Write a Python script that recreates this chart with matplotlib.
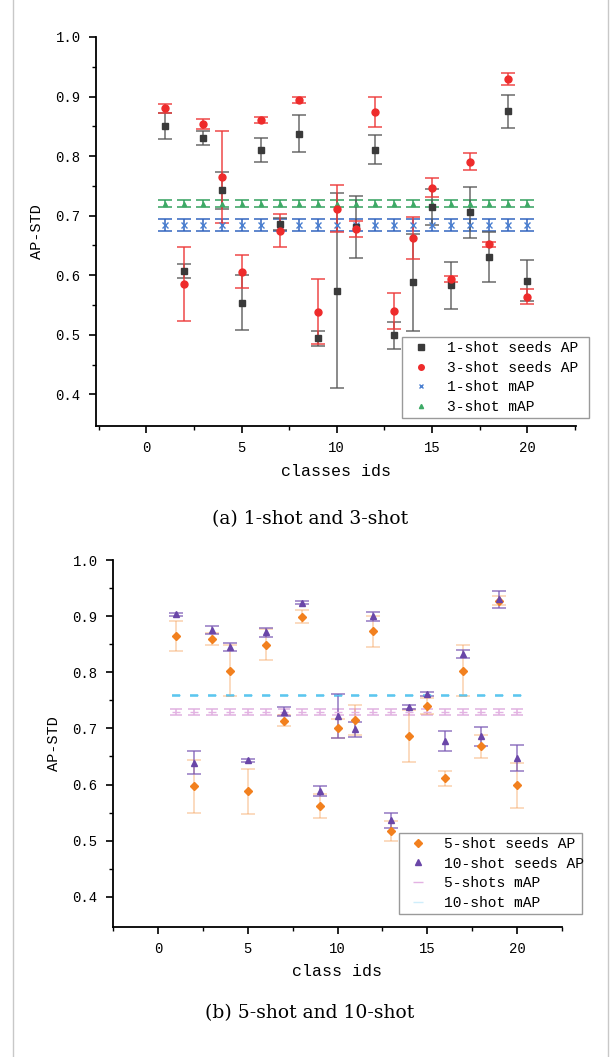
import numpy as np
import matplotlib
matplotlib.use("Agg")
import matplotlib.pyplot as plt
from matplotlib.lines import Line2D

# class ids
ids = list(range(1, 21))

# (a) 1-shot / 3-shot per-class AP and std
ap1 = [0.851, 0.607, 0.831, 0.743, 0.554, 0.810, 0.686, 0.838, 0.494, 0.574,
       0.681, 0.811, 0.499, 0.588, 0.715, 0.583, 0.706, 0.631, 0.875, 0.591]
ap1_std = [0.022, 0.012, 0.012, 0.031, 0.046, 0.020, 0.010, 0.031, 0.013, 0.164,
           0.052, 0.024, 0.022, 0.082, 0.030, 0.039, 0.043, 0.042, 0.028, 0.034]
ap3 = [0.880, 0.586, 0.854, 0.765, 0.606, 0.861, 0.675, 0.895, 0.539, 0.712,
       0.678, 0.874, 0.540, 0.663, 0.747, 0.594, 0.791, 0.652, 0.929, 0.564]
ap3_std = [0.008, 0.062, 0.008, 0.077, 0.028, 0.005, 0.028, 0.005, 0.054, 0.039,
           0.013, 0.025, 0.031, 0.035, 0.016, 0.005, 0.014, 0.004, 0.010, 0.013]
map1, map1_std = 0.684, 0.010
map3, map3_std = 0.720, 0.006

# (b) 5-shot / 10-shot
ap5 = [0.864, 0.597, 0.859, 0.803, 0.588, 0.849, 0.714, 0.899, 0.562, 0.700,
       0.715, 0.873, 0.517, 0.686, 0.740, 0.611, 0.803, 0.668, 0.927, 0.599]
ap5_std = [0.027, 0.047, 0.011, 0.046, 0.040, 0.028, 0.010, 0.012, 0.021, 0.017,
           0.026, 0.028, 0.018, 0.046, 0.015, 0.013, 0.045, 0.020, 0.008, 0.040]
ap10 = [0.903, 0.639, 0.876, 0.845, 0.643, 0.871, 0.730, 0.924, 0.588, 0.722,
        0.698, 0.900, 0.536, 0.738, 0.761, 0.678, 0.833, 0.686, 0.930, 0.647]
ap10_std = [0.003, 0.021, 0.007, 0.008, 0.003, 0.008, 0.008, 0.003, 0.009, 0.040,
            0.013, 0.008, 0.014, 0.004, 0.003, 0.018, 0.007, 0.017, 0.015, 0.023]
map5, map5_std = 0.729, 0.006
map10, map10_std = 0.759, 0.001

mono = "Liberation Mono"
serif = "DejaVu Serif"

fig = plt.figure(figsize=(6.11, 10.57), dpi=100)

# light frame around the page
for xf in (13 / 611, 608 / 611):
    fig.add_artist(Line2D([xf, xf], [0, 1], color="#c8c8c8", lw=1))


def style_axes(ax, xlim, xlabel):
    ax.set_xlim(*xlim)
    ax.set_ylim(0.347, 1.0)
    ax.spines["top"].set_visible(False)
    ax.spines["right"].set_visible(False)
    ax.spines["left"].set_linewidth(1.3)
    ax.spines["bottom"].set_linewidth(1.3)
    ax.set_xticks([0, 5, 10, 15, 20])
    ax.set_xticks([-2.5, 2.5, 7.5, 12.5, 17.5, 22.5], minor=True)
    ax.set_yticks([0.4, 0.5, 0.6, 0.7, 0.8, 0.9, 1.0])
    ax.set_yticks([0.45, 0.55, 0.65, 0.75, 0.85, 0.95], minor=True)
    ax.set_yticklabels(["%.1f" % v for v in ax.get_yticks()])
    ax.tick_params(which="major", length=5, width=1.2, labelsize=10, pad=6)
    ax.tick_params(which="minor", length=3, width=1.0)
    for lab in ax.get_xticklabels() + ax.get_yticklabels():
        lab.set_fontfamily(mono)
    ax.set_xlabel(xlabel, fontfamily=mono, fontsize=12, labelpad=6)
    ax.set_ylabel("AP-STD", fontfamily=mono, fontsize=11, labelpad=8)


def eb(ax, y, err, color, marker, ms, ecolor, alpha=1.0, capsize=5):
    # error bars first (faded), markers on top
    c = ax.errorbar(ids, y, yerr=err, fmt="none", ecolor=ecolor,
                    elinewidth=1.2, capsize=capsize, capthick=1.2, zorder=2)
    for child in c.get_children():
        child.set_alpha(alpha)
    ax.plot(ids, y, linestyle="none", marker=marker, color=color, ms=ms, zorder=3)


def make_legend(ax, handles, labels, box):
    leg = ax.legend(handles, labels, loc="lower left", bbox_to_anchor=box,
                    mode="expand", borderaxespad=0, fancybox=False, framealpha=1,
                    edgecolor="#9a9a9a", prop={"family": mono, "size": 10.5},
                    handletextpad=0.8, labelspacing=0.38, borderpad=0.3)
    leg.get_frame().set_linewidth(1.0)


# ---------- (a) ----------
ax1 = fig.add_axes([96 / 611, 1 - 426 / 1057, 480 / 611, 389 / 1057])
eb(ax1, [map1] * 20, [map1_std] * 20, "#4a7fd0", "x", 4, "#2f62bf", 0.9)
eb(ax1, [map3] * 20, [map3_std] * 20, "#3daa66", "^", 3, "#2e9e5a", 0.9)
eb(ax1, ap1, ap1_std, "#3a3a3a", "s", 5, "#555555", 0.8)
eb(ax1, ap3, ap3_std, "#ee2b2b", "o", 5, "#ee3a3a", 0.85)
style_axes(ax1, (-2.64, 22.56), "classes ids")

h1 = [Line2D([], [], ls="none", marker="s", color="#3a3a3a", ms=4),
      Line2D([], [], ls="none", marker="o", color="#ee2b2b", ms=4),
      Line2D([], [], ls="none", marker="x", color="#4a7fd0", ms=3.5),
      Line2D([], [], ls="none", marker="^", color="#3daa66", ms=3)]
make_legend(ax1, h1, ["1-shot seeds AP", "3-shot seeds AP", "1-shot mAP", "3-shot mAP"],
            (0.6375, 0.02, 0.39, 0.212))

fig.text(310 / 611, 1 - 519 / 1057, "(a) 1-shot and 3-shot", ha="center", va="center",
         fontfamily=serif, fontsize=13.5)

# ---------- (b) ----------
ax2 = fig.add_axes([113 / 611, 1 - 926.5 / 1057, 449 / 611, 366.5 / 1057])
eb(ax2, [map5] * 20, [map5_std] * 20, "#e3b2e3", "_", 6, "#e0b0e0", 0.9, capsize=4)
eb(ax2, [map10] * 20, [map10_std] * 20, "#5cc6ef", "_", 6, "#5cc6ef", 0.9, capsize=3)
eb(ax2, ap5, ap5_std, "#f2801e", "D", 4.5, "#f5a05a", 0.45)
eb(ax2, ap10, ap10_std, "#6a46a8", "^", 5, "#7b5ab5", 0.75)
style_axes(ax2, (-2.5, 22.5), "class ids")

h2 = [Line2D([], [], ls="none", marker="D", color="#f2801e", ms=4),
      Line2D([], [], ls="none", marker="^", color="#6a46a8", ms=4),
      Line2D([], [], ls="none", marker="_", color="#e3b2e3", ms=7),
      Line2D([], [], ls="none", marker="_", color="#cfeefb", ms=7)]
make_legend(ax2, h2, ["5-shot seeds AP", "10-shot seeds AP", "5-shots mAP", "10-shot mAP"],
            (0.637, 0.034, 0.4075, 0.211))

fig.text(310 / 611, 1 - 1013 / 1057, "(b) 5-shot and 10-shot", ha="center", va="center",
         fontfamily=serif, fontsize=13.5)

fig.savefig("out.png", dpi=100)
